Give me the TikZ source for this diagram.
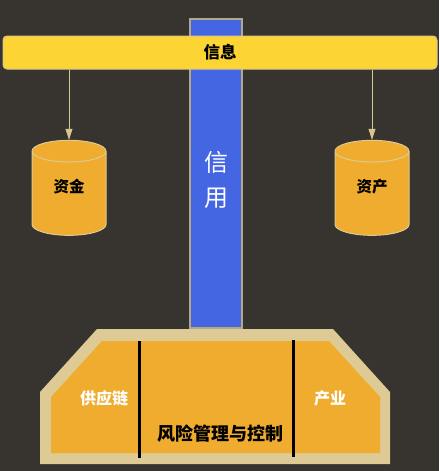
\documentclass[tikz,border=0pt]{standalone}
\usepackage{fontspec}
\usepackage{xcolor}
\usepackage{tikz}
\newfontfamily\cjk{Noto Sans CJK SC}
\definecolor{bgdark}{HTML}{37332E}
\definecolor{baryellow}{HTML}{FCD535}
\definecolor{baredge}{HTML}{D9C68C}
\definecolor{creditblue}{HTML}{4566E3}
\definecolor{columnedge}{HTML}{B3A88A}
\definecolor{potorange}{HTML}{F0AC2E}
\definecolor{rimbeige}{HTML}{DDCA94}
\usetikzlibrary{shapes.geometric, arrows.meta, positioning}

\begin{document}
\begin{tikzpicture}[
    x=1pt, y=-1pt,
    bar/.style={rectangle, rounded corners=4pt, draw=baredge, fill=baryellow, line width=1pt,
                minimum width=434pt, minimum height=33pt, font=\cjk\bfseries\fontsize{16.5}{16.5}\selectfont},
    column/.style={rectangle, draw=columnedge, fill=creditblue, line width=1.2pt, minimum width=52pt,
                   minimum height=309pt},
    columntext/.style={text width=30pt, align=center, text=white, font=\cjk\fontsize{24}{35}\selectfont},
    storetext/.style={font=\cjk\bfseries\fontsize{15.5}{15.5}\selectfont},
    store/.style={cylinder, shape border rotate=90, aspect=0.7, draw=rimbeige, fill=potorange,
                  line width=1pt, minimum width=74pt, minimum height=95pt, inner sep=0pt, storetext},
    feed/.style={-{Triangle[width=7pt,length=11pt]}, draw=baredge, line width=0.8pt},
    divider/.style={draw=black, line width=3pt},
    part/.style={text=white, font=\cjk\bfseries\fontsize{16}{16}\selectfont}
]
    \fill[bgdark] (0,0) rectangle (439,471);
    \useasboundingbox (0,0) rectangle (439,471);

    \node[column] (credit) at (216,173.5) {};
    \node[bar] (info) at (220,52.5) {信息};
    \node[columntext] (creditlabel) at ([yshift=-6.5pt]credit.center) {信\\用};

    \node[store] (fund) at (69,193.5) {\phantom{资金}};
    \node[store] (asset) at (372,193.5) {\phantom{资产}};
    \node[storetext] (fundlabel) at ([yshift=6.5pt]fund.center) {资金};
    \node[storetext] (assetlabel) at ([yshift=6.5pt]asset.center) {资产};
    \draw[feed] (info.south -| fund.north) -- (fund.north);
    \draw[feed] (info.south -| asset.north) -- (asset.north);

    \fill[rimbeige] (97,329) -- (333,329) -- (390,392) -- (390,464) -- (40,464) -- (40,392) -- cycle;
    \fill[potorange] (102,341) -- (329,341) -- (380,397) -- (380,453) -- (51,453) -- (51,397) -- cycle;
    \draw[divider] (139,341) -- (139,458);
    \draw[divider] (293,340) -- (293,457);

    \node[part] (chain) at (104,398) {供应链};
    \node[part] (industry) at (330,398) {产业};
    \node[font=\cjk\bfseries\fontsize{18}{18}\selectfont] (risk) at (220,434) {风险管理与控制};
\end{tikzpicture}
\end{document}
